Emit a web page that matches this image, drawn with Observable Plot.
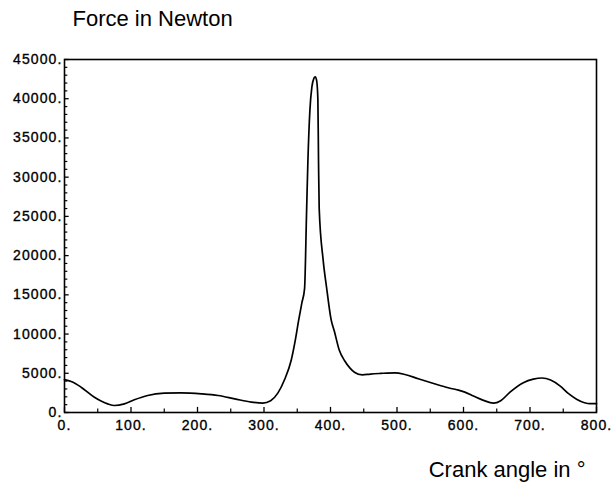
<!DOCTYPE html>
<html>
<head>
<meta charset="utf-8">
<script src="https://cdn.jsdelivr.net/npm/d3@7"></script>
<script src="https://cdn.jsdelivr.net/npm/@observablehq/plot@0.6"></script>
<style>
  html, body { margin: 0; padding: 0; background: #fff; }
  #chart svg { display: block; }
  #chart svg .tick-label text { letter-spacing: 1.1px; stroke: #000; stroke-width: 0.35px; }
</style>
</head>
<body>
<div id="chart"></div>
<script>
// Crank angle (degrees) and force (Newton)
const angle = [0, 10, 25, 45, 65, 75, 90, 105, 125, 150, 175, 206, 231, 256, 281, 298, 310, 321, 331, 341, 347, 352, 357, 361, 364, 366, 369, 372, 375, 377, 379, 381, 382, 383, 389, 394, 401, 406, 413, 421, 430, 436, 448, 460, 475, 497, 512, 532, 555, 577, 590, 602, 615, 630, 645, 656, 670, 690, 705, 718, 731, 745, 758, 770, 782, 790, 800];
const force = [4200, 3950, 3230, 1950, 1100, 890, 1100, 1620, 2170, 2460, 2500, 2380, 2170, 1740, 1320, 1200, 1500, 2500, 4200, 6700, 9200, 11700, 14000, 15800, 25500, 32000, 38500, 41500, 42600, 42800, 42400, 40000, 32000, 26000, 19400, 16000, 11800, 10300, 8000, 6630, 5600, 5140, 4800, 4900, 4980, 5060, 4850, 4300, 3700, 3150, 2900, 2600, 2100, 1550, 1190, 1500, 2600, 3800, 4250, 4400, 4150, 3400, 2400, 1700, 1250, 1120, 1120];

const xTicks = [0, 100, 200, 300, 400, 500, 600, 700, 800];
const xMinor = [50, 150, 250, 350, 450, 550, 650, 750];
const yTicks = [0, 5000, 10000, 15000, 20000, 25000, 30000, 35000, 40000, 45000];
const yMinor = d3.range(0, 45001, 1000).filter(v => v % 5000 !== 0);

const title = "Force in Newton";
const xTitle = "Crank angle in °";

const data = angle.map((a, i) => ({angle: a, force: force[i]}));

const chart = Plot.plot({
  width: 612,
  height: 485,
  marginLeft: 64,
  marginRight: 16,
  marginTop: 59,
  marginBottom: 73,
  style: {fontFamily: "'Liberation Sans', Arial, sans-serif", color: "#000", background: "#fff"},
  x: {domain: [0, 800]},
  y: {domain: [0, 45000]},
  marks: [
    // inward ticks on the x axis
    Plot.ruleX(xTicks, {x: d => d, y1: 0, y2: 650, stroke: "#000", strokeWidth: 1.3}),
    Plot.ruleX(xMinor, {x: d => d, y1: 0, y2: 450, stroke: "#000", strokeWidth: 1.2}),
    // inward ticks on the y axis
    Plot.ruleY(yTicks, {y: d => d, x1: 0, x2: 7, stroke: "#000", strokeWidth: 1.3}),
    Plot.ruleY(yMinor, {y: d => d, x1: 0, x2: 5, stroke: "#000", strokeWidth: 1.2}),
    Plot.axisX({ticks: xTicks, tickSize: 0, tickPadding: 8, tickFormat: d => d + ".", fontSize: 14, label: null, className: "tick-label"}),
    Plot.axisY({ticks: yTicks, tickSize: 0, tickPadding: 2, tickFormat: d => d + ".", fontSize: 14, label: null, className: "tick-label"}),
    Plot.frame({stroke: "#000", strokeWidth: 1.6}),
    Plot.line(data, {x: "angle", y: "force", curve: "monotone-x", stroke: "#000", strokeWidth: 1.7}),
    Plot.text([title], {frameAnchor: "top-left", text: d => d, textAnchor: "start", lineAnchor: "bottom", dx: 8, dy: -34, fontSize: 22, fill: "#000"}),
    Plot.text([xTitle], {frameAnchor: "bottom-right", text: d => d, textAnchor: "end", lineAnchor: "bottom", dx: -11, dy: 64, fontSize: 22, fill: "#000"})
  ]
});

document.getElementById("chart").appendChild(chart);
</script>
</body>
</html>
